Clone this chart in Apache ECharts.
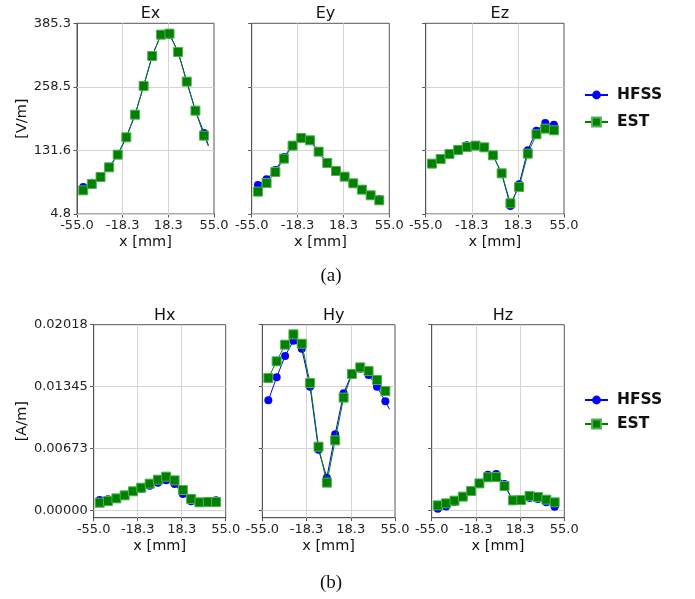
<!DOCTYPE html>
<html>
<head>
<meta charset="utf-8">
<script src="https://cdn.jsdelivr.net/npm/echarts@6.0.0/dist/echarts.min.js"></script>
<style>
html,body{margin:0;padding:0;background:#fff;}
#chart{width:695px;height:599px;}
</style>
</head>
<body>
<div id="chart"></div>
<script>
// x positions in mm (last entry is the line tail, drawn without marker)
const xMm = [-50.0, -43.1, -36.1, -29.2, -22.3, -15.4, -8.4, -1.5, 5.4, 12.4, 19.3, 26.2, 33.1, 40.1, 47.0, 50.5];
const xTicks = [-55.0, -18.333, 18.333, 55.0];
const eTicks = [4.8, 131.633, 258.467, 385.3];
const hTicks = [0, 0.0067267, 0.0134533, 0.02018];

const exHFSS = [58.7, 67.3, 79.0, 97.9, 123.2, 157.8, 203.0, 260.2, 320.1, 362.7, 362.7, 328.1, 268.9, 211.0, 166.5, 142];
const exEST  = [52.0, 64.7, 78.6, 97.9, 123.2, 157.8, 203.0, 260.2, 320.1, 362.7, 364.7, 328.1, 268.9, 211.0, 161.1, 140];
const eyHFSS = [62.7, 74.0, 92.6, 118.5, 142.5, 157.5, 151.8, 129.2, 106.6, 90.6, 79.3, 66.0, 53.4, 42.1, 34.7, 31];
const eyEST  = [49.4, 66.7, 88.6, 115.2, 141.2, 156.5, 151.8, 129.2, 106.6, 90.6, 79.3, 66.0, 53.4, 42.1, 32.1, 30];
const ezHFSS = [105.3, 114.6, 124.5, 133.5, 141.8, 142.5, 137.8, 121.9, 86.0, 20.8, 64.0, 131.9, 171.1, 186.4, 183.1, 181];
const ezEST  = [105.3, 114.6, 124.5, 132.5, 138.5, 141.2, 137.8, 121.9, 86.0, 26.1, 58.7, 125.2, 163.8, 175.1, 171.8, 170];

const hxHFSS = [0.00112, 0.00120, 0.00130, 0.00163, 0.00207, 0.00232, 0.00268, 0.00301, 0.00326, 0.00286, 0.00178, 0.00098, 0.00087, 0.00091, 0.00109, 0.00100];
const hxEST  = [0.00083, 0.00101, 0.00130, 0.00163, 0.00207, 0.00246, 0.00290, 0.00333, 0.00366, 0.00326, 0.00221, 0.00123, 0.00087, 0.00091, 0.00091, 0.00090];
const hyHFSS = [0.01196, 0.01446, 0.01677, 0.01844, 0.01757, 0.01344, 0.00659, 0.00355, 0.00826, 0.01272, 0.01489, 0.01540, 0.01471, 0.01344, 0.01185, 0.01098];
const hyEST  = [0.01438, 0.01620, 0.01801, 0.01913, 0.01811, 0.01384, 0.00692, 0.00301, 0.00761, 0.01225, 0.01482, 0.01554, 0.01514, 0.01417, 0.01297, 0.01240];
const hzHFSS = [0.00018, 0.00043, 0.00091, 0.00149, 0.00210, 0.00293, 0.00388, 0.00395, 0.00286, 0.00101, 0.00101, 0.00134, 0.00123, 0.00087, 0.00040, 0.00030];
const hzEST  = [0.00054, 0.00076, 0.00105, 0.00149, 0.00210, 0.00293, 0.00359, 0.00362, 0.00264, 0.00109, 0.00112, 0.00156, 0.00145, 0.00116, 0.00087, 0.00070];

const panelTitles = ['Ex', 'Ey', 'Ez', 'Hx', 'Hy', 'Hz'];
const panelData = [[exHFSS, exEST], [eyHFSS, eyEST], [ezHFSS, ezEST], [hxHFSS, hxEST], [hyHFSS, hyEST], [hzHFSS, hzEST]];
const seriesNames = ['HFSS', 'EST'];
const captions = ['(a)', '(b)'];

const FONT = 'DejaVu Sans';
const GRIDLINE = '#d4d4d4';
const SPINE = '#555';
const grids = [
  {left: 77, top: 23.3, width: 137, height: 190.7},
  {left: 251.7, top: 23.3, width: 137.6, height: 190.7},
  {left: 425.7, top: 23.3, width: 138.3, height: 190.7},
  {left: 93.7, top: 324.7, width: 132, height: 193},
  {left: 262.3, top: 324.7, width: 132.7, height: 193},
  {left: 431.7, top: 324.7, width: 132.6, height: 193}
];

const gridOpt = [], xAxes = [], yAxes = [], series = [], titles = [];
grids.forEach((g, i) => {
  const isE = i < 3;
  const first = (i % 3) === 0;
  const yTicks = isE ? eTicks : hTicks;
  gridOpt.push(Object.assign({show: true, borderColor: SPINE, borderWidth: 1, containLabel: false}, g));
  xAxes.push({
    type: 'value', gridIndex: i, min: -55, max: 55,
    name: 'x [mm]', nameLocation: 'middle', nameGap: 21,
    nameTextStyle: {fontFamily: FONT, fontSize: 14.5, color: '#111'},
    axisLine: {show: true, onZero: false, lineStyle: {color: SPINE, width: 1}},
    axisTick: {show: true, length: 3.5, customValues: xTicks, lineStyle: {color: SPINE}},
    axisLabel: {show: true, customValues: xTicks, margin: 5, fontFamily: FONT, fontSize: 13, color: '#222',
      formatter: v => v.toFixed(1)},
    splitLine: {show: false}
  });
  yAxes.push({
    type: 'value', gridIndex: i,
    min: isE ? 4.8 : -0.0008, max: isE ? 385.3 : 0.02018,
    name: first ? (isE ? '[V/m]' : '[A/m]') : '',
    nameLocation: 'middle', nameGap: isE ? 47 : 63, nameRotate: 90,
    nameTextStyle: {fontFamily: FONT, fontSize: 14.5, color: '#111'},
    axisLine: {show: true, onZero: false, lineStyle: {color: SPINE, width: 1}},
    axisTick: {show: true, length: 3.5, customValues: yTicks, lineStyle: {color: SPINE}},
    axisLabel: {show: first, customValues: yTicks, margin: 6, fontFamily: FONT, fontSize: 13, color: '#222',
      formatter: v => isE ? v.toFixed(1) : v.toFixed(5)},
    splitLine: {show: false}
  });
  titles.push({
    text: panelTitles[i], left: g.left + g.width / 2, top: g.top - 22, textAlign: 'center',
    textStyle: {fontFamily: FONT, fontSize: 16, fontWeight: 'normal', color: '#111'}
  });
  const gridLines = xTicks.slice(1, 3).map(v => ({xAxis: v}))
    .concat(yTicks.slice(0, 3).map(v => ({yAxis: v})));
  panelData[i].forEach((vals, k) => {
    const data = vals.map((v, j) => j === vals.length - 1 ? {value: [xMm[j], v], symbol: 'none'} : [xMm[j], v]);
    const s = {
      type: 'line', name: seriesNames[k], xAxisIndex: i, yAxisIndex: i, data: data,
      symbol: k === 0 ? 'circle' : 'rect', symbolSize: k === 0 ? 8 : 9,
      showAllSymbol: true, z: 3 + k,
      lineStyle: {width: 1, color: k === 0 ? '#0000ff' : '#008000'},
      itemStyle: k === 0 ? {color: '#0000ff'} : {color: '#008000', borderColor: '#4fb04f', borderWidth: 1},
      emphasis: {disabled: true}
    };
    if (k === 0) {
      s.markLine = {
        silent: true, z: 1, precision: 8, symbol: ['none', 'none'], label: {show: false},
        lineStyle: {color: GRIDLINE, width: 1, type: 'solid'},
        emphasis: {disabled: true},
        animation: false,
        data: gridLines
      };
    }
    series.push(s);
  });
});
titles.push({text: captions[0], left: 326, top: 262, textAlign: 'center',
  textStyle: {fontFamily: 'Liberation Serif', fontSize: 19, fontWeight: 'normal', color: '#111'}});
titles.push({text: captions[1], left: 326, top: 569, textAlign: 'center',
  textStyle: {fontFamily: 'Liberation Serif', fontSize: 19, fontWeight: 'normal', color: '#111'}});

const legendBase = {
  orient: 'vertical', left: 579, itemWidth: 23, itemHeight: 11,
  selectedMode: false, data: seriesNames,
  textStyle: {fontFamily: FONT, fontSize: 15.5, fontWeight: 'bold', color: '#111', padding: [0, 0, 0, 4]}
};

const chart = echarts.init(document.getElementById('chart'), null, {renderer: 'canvas'});
chart.setOption({
  animation: false,
  backgroundColor: '#fff',
  title: titles,
  legend: [Object.assign({top: 82, itemGap: 11}, legendBase), Object.assign({top: 387, itemGap: 8}, legendBase)],
  grid: gridOpt,
  xAxis: xAxes,
  yAxis: yAxes,
  series: series
});
</script>
</body>
</html>
